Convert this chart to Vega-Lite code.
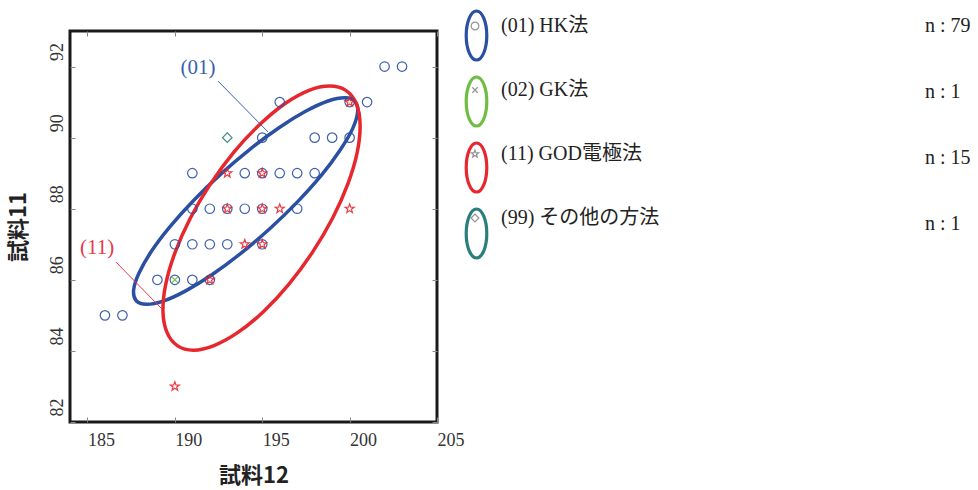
{
  "$schema": "https://vega.github.io/schema/vega-lite/v6.json",
  "autosize": "none",
  "width": 367,
  "height": 391,
  "padding": {"left": 70, "top": 31, "right": 541, "bottom": 68},
  "background": "white",
  "config": {
    "view": {"stroke": "#1a1a1a", "strokeWidth": 3},
    "font": "Liberation Serif"
  },
  "datasets": {
    "points": [
      {"x": 186, "y": 85, "code": "01", "method": "(01) HK法"},
      {"x": 187, "y": 85, "code": "01", "method": "(01) HK法"},
      {"x": 189, "y": 86, "code": "01", "method": "(01) HK法"},
      {"x": 190, "y": 86, "code": "01", "method": "(01) HK法"},
      {"x": 191, "y": 86, "code": "01", "method": "(01) HK法"},
      {"x": 192, "y": 86, "code": "01", "method": "(01) HK法"},
      {"x": 190, "y": 87, "code": "01", "method": "(01) HK法"},
      {"x": 191, "y": 87, "code": "01", "method": "(01) HK法"},
      {"x": 192, "y": 87, "code": "01", "method": "(01) HK法"},
      {"x": 193, "y": 87, "code": "01", "method": "(01) HK法"},
      {"x": 195, "y": 87, "code": "01", "method": "(01) HK法"},
      {"x": 191, "y": 88, "code": "01", "method": "(01) HK法"},
      {"x": 192, "y": 88, "code": "01", "method": "(01) HK法"},
      {"x": 193, "y": 88, "code": "01", "method": "(01) HK法"},
      {"x": 194, "y": 88, "code": "01", "method": "(01) HK法"},
      {"x": 195, "y": 88, "code": "01", "method": "(01) HK法"},
      {"x": 197, "y": 88, "code": "01", "method": "(01) HK法"},
      {"x": 191, "y": 89, "code": "01", "method": "(01) HK法"},
      {"x": 194, "y": 89, "code": "01", "method": "(01) HK法"},
      {"x": 195, "y": 89, "code": "01", "method": "(01) HK法"},
      {"x": 196, "y": 89, "code": "01", "method": "(01) HK法"},
      {"x": 197, "y": 89, "code": "01", "method": "(01) HK法"},
      {"x": 198, "y": 89, "code": "01", "method": "(01) HK法"},
      {"x": 195, "y": 90, "code": "01", "method": "(01) HK法"},
      {"x": 198, "y": 90, "code": "01", "method": "(01) HK法"},
      {"x": 199, "y": 90, "code": "01", "method": "(01) HK法"},
      {"x": 200, "y": 90, "code": "01", "method": "(01) HK法"},
      {"x": 196, "y": 91, "code": "01", "method": "(01) HK法"},
      {"x": 200, "y": 91, "code": "01", "method": "(01) HK法"},
      {"x": 201, "y": 91, "code": "01", "method": "(01) HK法"},
      {"x": 202, "y": 92, "code": "01", "method": "(01) HK法"},
      {"x": 203, "y": 92, "code": "01", "method": "(01) HK法"},
      {"x": 190, "y": 86, "code": "02", "method": "(02) GK法"},
      {"x": 190, "y": 83, "code": "11", "method": "(11) GOD電極法"},
      {"x": 192, "y": 86, "code": "11", "method": "(11) GOD電極法"},
      {"x": 194, "y": 87, "code": "11", "method": "(11) GOD電極法"},
      {"x": 195, "y": 87, "code": "11", "method": "(11) GOD電極法"},
      {"x": 193, "y": 88, "code": "11", "method": "(11) GOD電極法"},
      {"x": 195, "y": 88, "code": "11", "method": "(11) GOD電極法"},
      {"x": 196, "y": 88, "code": "11", "method": "(11) GOD電極法"},
      {"x": 200, "y": 88, "code": "11", "method": "(11) GOD電極法"},
      {"x": 193, "y": 89, "code": "11", "method": "(11) GOD電極法"},
      {"x": 195, "y": 89, "code": "11", "method": "(11) GOD電極法"},
      {"x": 200, "y": 91, "code": "11", "method": "(11) GOD電極法"},
      {"x": 193, "y": 90, "code": "99", "method": "(99) その他の方法"}
    ],
    "ellipses": [
      {"code": "01", "i": 0, "x": 200.31, "y": 91.02},
      {"code": "01", "i": 1, "x": 200.46, "y": 90.73},
      {"code": "01", "i": 2, "x": 200.18, "y": 90.26},
      {"code": "01", "i": 3, "x": 199.47, "y": 89.66},
      {"code": "01", "i": 4, "x": 198.40, "y": 88.95},
      {"code": "01", "i": 5, "x": 197.03, "y": 88.20},
      {"code": "01", "i": 6, "x": 195.46, "y": 87.45},
      {"code": "01", "i": 7, "x": 193.79, "y": 86.75},
      {"code": "01", "i": 8, "x": 192.14, "y": 86.15},
      {"code": "01", "i": 9, "x": 190.62, "y": 85.69},
      {"code": "01", "i": 10, "x": 189.33, "y": 85.40},
      {"code": "01", "i": 11, "x": 188.37, "y": 85.31},
      {"code": "01", "i": 12, "x": 187.79, "y": 85.41},
      {"code": "01", "i": 13, "x": 187.64, "y": 85.71},
      {"code": "01", "i": 14, "x": 187.93, "y": 86.17},
      {"code": "01", "i": 15, "x": 188.63, "y": 86.78},
      {"code": "01", "i": 16, "x": 189.70, "y": 87.48},
      {"code": "01", "i": 17, "x": 191.07, "y": 88.23},
      {"code": "01", "i": 18, "x": 192.64, "y": 88.98},
      {"code": "01", "i": 19, "x": 194.31, "y": 89.68},
      {"code": "01", "i": 20, "x": 195.96, "y": 90.28},
      {"code": "01", "i": 21, "x": 197.48, "y": 90.74},
      {"code": "01", "i": 22, "x": 198.77, "y": 91.03},
      {"code": "01", "i": 23, "x": 199.74, "y": 91.12},
      {"code": "11", "i": 0, "x": 199.78, "y": 91.33},
      {"code": "11", "i": 1, "x": 200.38, "y": 90.96},
      {"code": "11", "i": 2, "x": 200.60, "y": 90.37},
      {"code": "11", "i": 3, "x": 200.44, "y": 89.60},
      {"code": "11", "i": 4, "x": 199.90, "y": 88.70},
      {"code": "11", "i": 5, "x": 199.03, "y": 87.74},
      {"code": "11", "i": 6, "x": 197.88, "y": 86.78},
      {"code": "11", "i": 7, "x": 196.53, "y": 85.88},
      {"code": "11", "i": 8, "x": 195.08, "y": 85.11},
      {"code": "11", "i": 9, "x": 193.61, "y": 84.52},
      {"code": "11", "i": 10, "x": 192.24, "y": 84.15},
      {"code": "11", "i": 11, "x": 191.06, "y": 84.02},
      {"code": "11", "i": 12, "x": 190.14, "y": 84.15},
      {"code": "11", "i": 13, "x": 189.55, "y": 84.52},
      {"code": "11", "i": 14, "x": 189.32, "y": 85.11},
      {"code": "11", "i": 15, "x": 189.48, "y": 85.88},
      {"code": "11", "i": 16, "x": 190.02, "y": 86.78},
      {"code": "11", "i": 17, "x": 190.89, "y": 87.74},
      {"code": "11", "i": 18, "x": 192.04, "y": 88.70},
      {"code": "11", "i": 19, "x": 193.39, "y": 89.60},
      {"code": "11", "i": 20, "x": 194.84, "y": 90.36},
      {"code": "11", "i": 21, "x": 196.31, "y": 90.96},
      {"code": "11", "i": 22, "x": 197.68, "y": 91.33},
      {"code": "11", "i": 23, "x": 198.86, "y": 91.45}
    ],
    "notes": [
      {"code": "01", "label": "(01)", "x": 191.32, "y": 91.96, "x1": 192.47, "y1": 91.59, "x2": 195.33, "y2": 90.16},
      {"code": "11", "label": "(11)", "x": 185.55, "y": 86.90, "x1": 186.63, "y1": 86.50, "x2": 189.26, "y2": 85.18}
    ]
  },
  "layer": [
    {
      "data": {"name": "ellipses"},
      "mark": {"type": "line", "interpolate": "cardinal-closed", "strokeWidth": 3.5},
      "encoding": {
        "x": {"field": "x", "type": "quantitative",
          "scale": {"domain": [184, 205], "nice": false, "zero": false},
          "axis": {"orient": "top", "values": [185, 190, 195, 200, 205], "labels": false, "title": null, "domain": false, "grid": false, "tickSize": -5, "tickColor": "#888888", "tickWidth": 1}},
        "y": {"field": "y", "type": "quantitative",
          "scale": {"domain": [82, 93], "nice": false, "zero": false},
          "axis": {"orient": "right", "values": [82, 84, 86, 88, 90, 92], "labels": false, "title": null, "domain": false, "grid": false, "tickSize": -5, "tickColor": "#888888", "tickWidth": 1}},
        "color": {"field": "code", "type": "nominal",
          "scale": {"domain": ["01", "02", "11", "99"], "range": ["#2b50a2", "#6fbd43", "#e8262d", "#2a7f7c"]},
          "legend": {
            "orient": "none", "legendX": 380, "legendY": -22, "title": null, "padding": 0,
            "symbolType": "M0,-1A0.42,1 0 1,1 0,1A0.42,1 0 1,1 0,-1Z",
            "symbolSize": 2400, "symbolStrokeWidth": 3.2, "symbolFillColor": "transparent",
            "rowPadding": 3,
            "labelExpr": "{'01': 'n : 79', '02': 'n : 1', '11': 'n : 15', '99': 'n : 1'}[datum.label]",
            "labelOffset": 422, "labelBaseline": "bottom", "labelFontSize": 20,
            "labelFont": "Liberation Serif", "labelColor": "#222222",
            "encode": {"symbols": {"update": {"fill": {"value": "transparent"}, "strokeWidth": {"value": 3.2}}}}
          }},
        "order": {"field": "i", "type": "quantitative"}
      }
    },
    {
      "data": {"name": "points"},
      "mark": {"type": "point", "filled": false, "strokeWidth": 1.2, "opacity": 0.9},
      "encoding": {
        "x": {"field": "x", "type": "quantitative",
          "scale": {"domain": [184, 205], "nice": false, "zero": false},
          "axis": {"orient": "bottom", "values": [185, 190, 195, 200, 205], "domain": false, "grid": false, "tickSize": -5, "tickColor": "#888888", "tickWidth": 1,
            "labelAlign": "left", "labelBaseline": "top", "labelPadding": 14, "labelFlush": false, "labelOverlap": false,
            "labelFont": "Liberation Serif", "labelFontSize": 18, "labelColor": "#333333",
            "title": "試料12", "titleFont": "Noto Sans CJK JP", "titleFontSize": 22, "titleFontWeight": "bold", "titleColor": "#222222", "titlePadding": 16}},
        "y": {"field": "y", "type": "quantitative",
          "scale": {"domain": [82, 93], "nice": false, "zero": false},
          "axis": {"orient": "left", "values": [82, 84, 86, 88, 90, 92], "domain": false, "grid": false, "tickSize": -5, "tickColor": "#888888", "tickWidth": 1,
            "labelAngle": -90, "labelAlign": "center", "labelBaseline": "bottom", "labelOffset": -15, "labelPadding": 9, "labelFlush": false, "labelOverlap": false,
            "labelFont": "Liberation Serif", "labelFontSize": 18, "labelColor": "#333333",
            "title": "試料11", "titleFont": "Noto Sans CJK JP", "titleFontSize": 22, "titleFontWeight": "bold", "titleColor": "#222222", "titlePadding": 18}},
        "color": {"field": "code", "type": "nominal"},
        "shape": {"field": "method", "type": "nominal",
          "scale": {"domain": ["(01) HK法", "(02) GK法", "(11) GOD電極法", "(99) その他の方法"],
            "range": ["circle", "M-0.7,-0.7L0.7,0.7M-0.7,0.7L0.7,-0.7", "M0,-1L0.235,-0.324L0.951,-0.309L0.38,0.124L0.588,0.809L0,0.4L-0.588,0.809L-0.38,0.124L-0.951,-0.309L-0.235,-0.324Z", "diamond"]},
          "legend": {
            "orient": "none", "legendX": 395, "legendY": -15, "title": null, "padding": 0,
            "symbolSize": 60, "symbolStrokeWidth": 1.2, "rowPadding": 44,
            "labelOffset": 16, "labelFontSize": 20, "labelFont": "Liberation Serif, Noto Sans CJK JP", "labelColor": "#222222", "labelLimit": 300,
            "encode": {"symbols": {"update": {
              "stroke": {"signal": "indexof(datum.value, '(01)') === 0 ? '#2b50a2' : indexof(datum.value, '(02)') === 0 ? '#6fbd43' : indexof(datum.value, '(11)') === 0 ? '#e8262d' : '#2a7f7c'"},
              "fill": {"value": "transparent"},
              "opacity": {"value": 1}}}}
          }},
        "size": {"value": 90}
      }
    },
    {
      "data": {"name": "notes"},
      "transform": [{"filter": "datum.code === '01'"}],
      "mark": {"type": "rule", "color": "#3a5fb0", "strokeWidth": 1},
      "encoding": {
        "x": {"field": "x1", "type": "quantitative", "axis": null, "scale": {"domain": [184, 205], "nice": false, "zero": false}},
        "y": {"field": "y1", "type": "quantitative", "axis": null, "scale": {"domain": [82, 93], "nice": false, "zero": false}},
        "x2": {"field": "x2"},
        "y2": {"field": "y2"}
      }
    },
    {
      "data": {"name": "notes"},
      "transform": [{"filter": "datum.code === '11'"}],
      "mark": {"type": "rule", "color": "#e8384a", "strokeWidth": 1},
      "encoding": {
        "x": {"field": "x1", "type": "quantitative", "axis": null, "scale": {"domain": [184, 205], "nice": false, "zero": false}},
        "y": {"field": "y1", "type": "quantitative", "axis": null, "scale": {"domain": [82, 93], "nice": false, "zero": false}},
        "x2": {"field": "x2"},
        "y2": {"field": "y2"}
      }
    },
    {
      "data": {"name": "notes"},
      "transform": [{"filter": "datum.code === '01'"}],
      "mark": {"type": "text", "color": "#3a5fb0", "font": "Liberation Serif", "fontSize": 21, "align": "center", "baseline": "middle"},
      "encoding": {
        "x": {"field": "x", "type": "quantitative", "axis": null, "scale": {"domain": [184, 205], "nice": false, "zero": false}},
        "y": {"field": "y", "type": "quantitative", "axis": null, "scale": {"domain": [82, 93], "nice": false, "zero": false}},
        "text": {"field": "label"}
      }
    },
    {
      "data": {"name": "notes"},
      "transform": [{"filter": "datum.code === '11'"}],
      "mark": {"type": "text", "color": "#e8384a", "font": "Liberation Serif", "fontSize": 21, "align": "center", "baseline": "middle"},
      "encoding": {
        "x": {"field": "x", "type": "quantitative", "axis": null, "scale": {"domain": [184, 205], "nice": false, "zero": false}},
        "y": {"field": "y", "type": "quantitative", "axis": null, "scale": {"domain": [82, 93], "nice": false, "zero": false}},
        "text": {"field": "label"}
      }
    }
  ],
  "resolve": {"axis": {"x": "independent", "y": "independent"}}
}
